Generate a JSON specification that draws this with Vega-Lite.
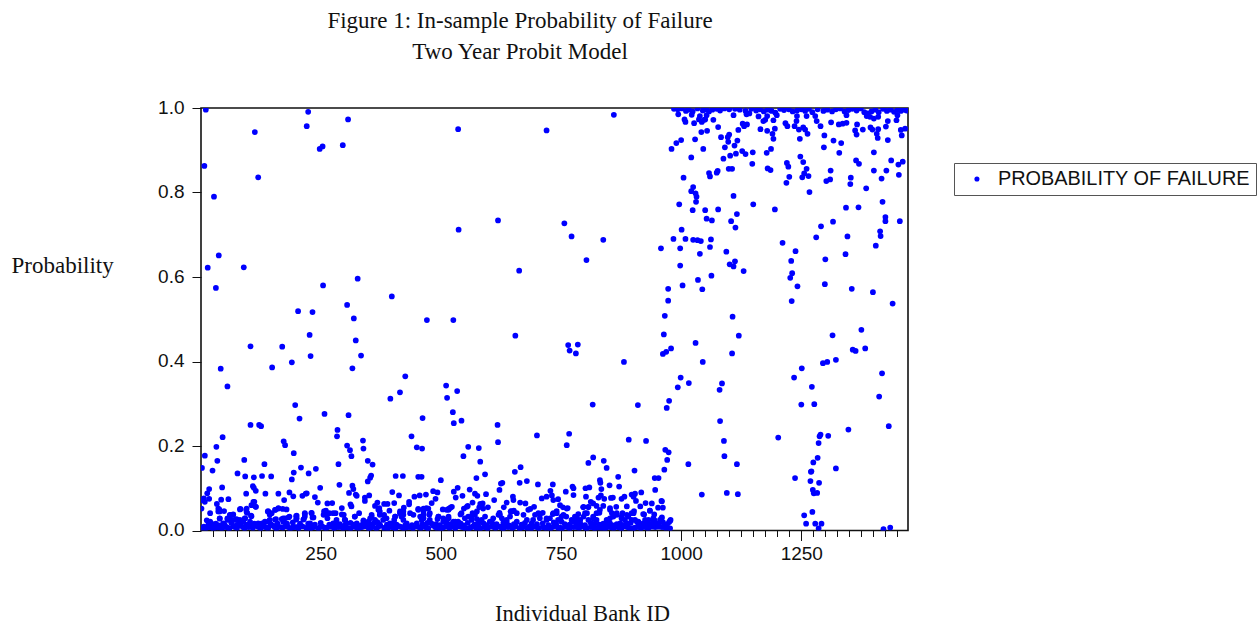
{"$schema":"https://vega.github.io/schema/vega-lite/v6.json","width":707,"height":422.5,"autosize":{"type":"none"},"padding":{"left":201,"top":108,"right":350,"bottom":93.5},"background":"white","config":{"view":{"stroke":"#111","strokeWidth":1.6}},
"title":{"text":["Figure 1: In-sample Probability of Failure","Two Year Probit Model"],"font":"Liberation Serif","fontSize":23,"fontWeight":"normal","color":"#111","anchor":"middle","frame":"group","dx":-34.5,"lineHeight":31,"offset":34},
"data":{"values":[
{"id":11,"p":0.996},{"id":224,"p":0.991},{"id":307,"p":0.973},{"id":113,"p":0.943},{"id":221,"p":0.957},{"id":536,"p":0.95},{"id":720,"p":0.947},{"id":248,"p":0.903},{"id":254,"p":0.909},{"id":296,"p":0.912},{"id":8,"p":0.863},{"id":120,"p":0.836},{"id":28,"p":0.79},{"id":619,"p":0.734},{"id":537,"p":0.712},{"id":38,"p":0.651},{"id":15,"p":0.622},{"id":90,"p":0.623},{"id":663,"p":0.615},{"id":327,"p":0.596},{"id":32,"p":0.574},{"id":255,"p":0.58},{"id":398,"p":0.554},{"id":305,"p":0.534},{"id":203,"p":0.519},{"id":233,"p":0.517},{"id":319,"p":0.502},{"id":471,"p":0.498},{"id":526,"p":0.498},{"id":860,"p":0.984},{"id":757,"p":0.727},{"id":772,"p":0.696},{"id":838,"p":0.688},{"id":803,"p":0.64},
{"id":104,"p":0.436},{"id":170,"p":0.435},{"id":227,"p":0.463},{"id":229,"p":0.413},{"id":323,"p":0.45},{"id":334,"p":0.414},{"id":316,"p":0.384},{"id":42,"p":0.383},{"id":56,"p":0.341},{"id":149,"p":0.386},{"id":190,"p":0.398},{"id":426,"p":0.365},{"id":511,"p":0.343},{"id":513,"p":0.314},{"id":415,"p":0.327},{"id":395,"p":0.312},{"id":197,"p":0.297},{"id":206,"p":0.265},{"id":258,"p":0.276},{"id":308,"p":0.273},{"id":104,"p":0.25},{"id":122,"p":0.25},{"id":126,"p":0.247},{"id":462,"p":0.266},{"id":285,"p":0.238},{"id":284,"p":0.223},{"id":439,"p":0.223},{"id":46,"p":0.221},{"id":33,"p":0.198},{"id":173,"p":0.211},{"id":176,"p":0.202},{"id":305,"p":0.201},{"id":311,"p":0.19},{"id":314,"p":0.176},{"id":338,"p":0.213},{"id":339,"p":0.194},{"id":450,"p":0.197},{"id":461,"p":0.194},{"id":9,"p":0.177},{"id":35,"p":0.165},{"id":91,"p":0.167},{"id":194,"p":0.183},{"id":348,"p":0.165},{"id":358,"p":0.156},{"id":133,"p":0.157},{"id":209,"p":0.149},{"id":240,"p":0.146},{"id":287,"p":0.157},{"id":3,"p":0.148},{"id":25,"p":0.142},{"id":77,"p":0.135},{"id":93,"p":0.128},{"id":111,"p":0.126},{"id":128,"p":0.129},{"id":147,"p":0.128},{"id":194,"p":0.137},{"id":225,"p":0.135},{"id":190,"p":0.121},{"id":355,"p":0.13},{"id":353,"p":0.125},{"id":348,"p":0.116},{"id":406,"p":0.129},{"id":421,"p":0.129},{"id":453,"p":0.127},{"id":460,"p":0.127},{"id":500,"p":0.119},{"id":18,"p":0.098},{"id":45,"p":0.102},{"id":109,"p":0.105},{"id":111,"p":0.101},{"id":115,"p":0.094},{"id":289,"p":0.108},{"id":316,"p":0.106},{"id":318,"p":0.098},{"id":249,"p":0.101},{"id":399,"p":0.091},{"id":413,"p":0.083},{"id":484,"p":0.093},{"id":493,"p":0.09},{"id":309,"p":0.089},{"id":323,"p":0.085},{"id":325,"p":0.082},{"id":185,"p":0.09},{"id":193,"p":0.081},{"id":212,"p":0.082},{"id":221,"p":0.088},{"id":219,"p":0.087},{"id":95,"p":0.087},{"id":135,"p":0.087},{"id":162,"p":0.087},{"id":238,"p":0.079},{"id":174,"p":0.072},{"id":351,"p":0.083},{"id":342,"p":0.078},{"id":342,"p":0.07},{"id":445,"p":0.08},{"id":456,"p":0.083},{"id":469,"p":0.085},{"id":489,"p":0.075},{"id":2,"p":0.072},{"id":9,"p":0.068},{"id":7,"p":0.076},{"id":14,"p":0.088},{"id":18,"p":0.075},{"id":43,"p":0.073},{"id":58,"p":0.074},{"id":34,"p":0.063},{"id":244,"p":0.066},{"id":264,"p":0.064},{"id":274,"p":0.065},{"id":368,"p":0.066},{"id":363,"p":0.058},{"id":382,"p":0.063},{"id":389,"p":0.063},{"id":403,"p":0.065},{"id":434,"p":0.068},{"id":434,"p":0.062},{"id":481,"p":0.065},{"id":2,"p":0.052},{"id":37,"p":0.045},{"id":39,"p":0.05},{"id":49,"p":0.046},{"id":83,"p":0.051},{"id":96,"p":0.052},{"id":96,"p":0.043},{"id":112,"p":0.068},{"id":106,"p":0.06},{"id":115,"p":0.056},{"id":140,"p":0.045},{"id":156,"p":0.049},{"id":162,"p":0.053},{"id":171,"p":0.051},{"id":179,"p":0.05},{"id":294,"p":0.053},{"id":312,"p":0.062},{"id":314,"p":0.057},{"id":372,"p":0.053},{"id":373,"p":0.045},{"id":393,"p":0.047},{"id":415,"p":0.045},{"id":423,"p":0.054},{"id":453,"p":0.051},{"id":470,"p":0.053},{"id":464,"p":0.045},{"id":504,"p":0.05},{"id":512,"p":0.049},{"id":519,"p":0.053},
{"id":964,"p":0.464},{"id":979,"p":0.431},{"id":969,"p":0.423},{"id":962,"p":0.418},{"id":655,"p":0.461},{"id":765,"p":0.439},{"id":785,"p":0.44},{"id":768,"p":0.426},{"id":781,"p":0.419},{"id":1030,"p":0.444},{"id":881,"p":0.399},{"id":999,"p":0.362},{"id":993,"p":0.339},{"id":1016,"p":0.349},{"id":534,"p":0.33},{"id":525,"p":0.28},{"id":527,"p":0.254},{"id":543,"p":0.26},{"id":816,"p":0.298},{"id":910,"p":0.297},{"id":975,"p":0.307},{"id":970,"p":0.29},{"id":618,"p":0.25},{"id":619,"p":0.209},{"id":700,"p":0.225},{"id":767,"p":0.229},{"id":762,"p":0.202},{"id":891,"p":0.215},{"id":927,"p":0.212},{"id":557,"p":0.198},{"id":579,"p":0.195},{"id":547,"p":0.176},{"id":967,"p":0.191},{"id":974,"p":0.185},{"id":582,"p":0.163},{"id":817,"p":0.173},{"id":807,"p":0.16},{"id":839,"p":0.165},{"id":971,"p":0.167},{"id":845,"p":0.148},{"id":1015,"p":0.157},{"id":666,"p":0.15},{"id":654,"p":0.139},{"id":592,"p":0.133},{"id":574,"p":0.124},{"id":965,"p":0.144},{"id":903,"p":0.142},{"id":869,"p":0.127},{"id":945,"p":0.124},{"id":953,"p":0.124},{"id":679,"p":0.117},{"id":664,"p":0.113},{"id":628,"p":0.113},{"id":625,"p":0.111},{"id":702,"p":0.109},{"id":733,"p":0.109},{"id":831,"p":0.119},{"id":832,"p":0.113},{"id":851,"p":0.107},{"id":871,"p":0.104},{"id":809,"p":0.102},{"id":801,"p":0.1},{"id":774,"p":0.104},{"id":776,"p":0.1},{"id":535,"p":0.101},{"id":527,"p":0.092},{"id":560,"p":0.097},{"id":622,"p":0.096},{"id":728,"p":0.094},{"id":760,"p":0.092},{"id":834,"p":0.098},{"id":946,"p":0.096},{"id":917,"p":0.09},{"id":904,"p":0.087},{"id":897,"p":0.085},{"id":776,"p":0.084},{"id":802,"p":0.08},{"id":545,"p":0.082},{"id":531,"p":0.078},{"id":571,"p":0.087},{"id":576,"p":0.082},{"id":594,"p":0.086},{"id":650,"p":0.08},{"id":651,"p":0.072},{"id":611,"p":0.072},{"id":720,"p":0.08},{"id":710,"p":0.076},{"id":731,"p":0.083},{"id":734,"p":0.072},{"id":744,"p":0.074},{"id":833,"p":0.083},{"id":828,"p":0.078},{"id":840,"p":0.075},{"id":854,"p":0.077},{"id":858,"p":0.078},{"id":876,"p":0.075},{"id":882,"p":0.08},{"id":901,"p":0.08},{"id":906,"p":0.07},{"id":959,"p":0.07},{"id":812,"p":0.068},{"id":817,"p":0.064},{"id":566,"p":0.066},{"id":587,"p":0.064},{"id":582,"p":0.063},{"id":637,"p":0.066},{"id":631,"p":0.055},{"id":665,"p":0.066},{"id":676,"p":0.064},{"id":694,"p":0.056},{"id":686,"p":0.051},{"id":748,"p":0.06},{"id":754,"p":0.055},{"id":764,"p":0.053},{"id":796,"p":0.055},{"id":807,"p":0.055},{"id":824,"p":0.058},{"id":838,"p":0.058},{"id":852,"p":0.053},{"id":865,"p":0.056},{"id":887,"p":0.057},{"id":915,"p":0.057},{"id":926,"p":0.065},{"id":939,"p":0.064},{"id":952,"p":0.054},{"id":962,"p":0.054},{"id":556,"p":0.058},{"id":548,"p":0.052},{"id":521,"p":0.055},{"id":516,"p":0.051},{"id":580,"p":0.055},{"id":598,"p":0.055},{"id":652,"p":0.047},{"id":645,"p":0.045},{"id":622,"p":0.042},{"id":541,"p":0.038},{"id":566,"p":0.041},{"id":712,"p":0.042},{"id":741,"p":0.046},{"id":733,"p":0.039},{"id":830,"p":0.042},{"id":856,"p":0.041},{"id":902,"p":0.046},{"id":923,"p":0.038},{"id":935,"p":0.047},{"id":944,"p":0.038},
{"id":980,"p":0.903},{"id":990,"p":0.917},{"id":1000,"p":0.924},{"id":1029,"p":0.926},{"id":1046,"p":0.903},{"id":1021,"p":0.883},{"id":1005,"p":0.835},{"id":1025,"p":0.813},{"id":1021,"p":0.803},{"id":1030,"p":0.798},{"id":1032,"p":0.79},{"id":1031,"p":0.778},{"id":996,"p":0.772},{"id":1024,"p":0.758},{"id":1050,"p":0.758},{"id":1077,"p":0.76},{"id":1053,"p":0.738},{"id":1064,"p":0.734},{"id":1001,"p":0.712},{"id":984,"p":0.69},{"id":1009,"p":0.69},{"id":1025,"p":0.688},{"id":1034,"p":0.687},{"id":1041,"p":0.685},{"id":1062,"p":0.689},{"id":1060,"p":0.671},{"id":958,"p":0.668},{"id":998,"p":0.668},{"id":1039,"p":0.655},{"id":998,"p":0.627},{"id":1035,"p":0.593},{"id":1063,"p":0.603},{"id":1003,"p":0.58},{"id":973,"p":0.572},{"id":1044,"p":0.571},{"id":973,"p":0.544},{"id":966,"p":0.508},{"id":1107,"p":0.506},{"id":1094,"p":0.66},{"id":1101,"p":0.63},{"id":1112,"p":0.637},{"id":1109,"p":0.625},{"id":1130,"p":0.614},{"id":1109,"p":0.792},{"id":1116,"p":0.749},{"id":1104,"p":0.732},{"id":1113,"p":0.717},{"id":1150,"p":0.772},{"id":1195,"p":0.76},{"id":1211,"p":0.681},{"id":1238,"p":0.661},{"id":1229,"p":0.638},{"id":1231,"p":0.609},{"id":1227,"p":0.598},{"id":1242,"p":0.578},{"id":1230,"p":0.543},{"id":1299,"p":0.583},{"id":1300,"p":0.642},{"id":1281,"p":0.694},{"id":1291,"p":0.72},{"id":1316,"p":0.731},{"id":1346,"p":0.696},{"id":1342,"p":0.654},{"id":1355,"p":0.572},{"id":1399,"p":0.564},{"id":1440,"p":0.537},{"id":1405,"p":0.674},{"id":1415,"p":0.697},{"id":1414,"p":0.708},{"id":1425,"p":0.742},{"id":1425,"p":0.732},{"id":1455,"p":0.732},{"id":1419,"p":0.778},{"id":1343,"p":0.764},{"id":1369,"p":0.765},{"id":1385,"p":0.81},{"id":1352,"p":0.82},{"id":1353,"p":0.835},{"id":1417,"p":0.833},{"id":1267,"p":0.801},{"id":1219,"p":0.823},{"id":1225,"p":0.837},{"id":1252,"p":0.836},{"id":1256,"p":0.845},{"id":1265,"p":0.839},{"id":1261,"p":0.856},{"id":1302,"p":0.827},{"id":1310,"p":0.831},{"id":1311,"p":0.852},{"id":1223,"p":0.861},{"id":1220,"p":0.87},{"id":1254,"p":0.872},{"id":1248,"p":0.885},{"id":1186,"p":0.853},{"id":1180,"p":0.857},{"id":1148,"p":0.868},{"id":1060,"p":0.838},{"id":1058,"p":0.846},{"id":1076,"p":0.851},{"id":1074,"p":0.847},{"id":1099,"p":0.856},{"id":1106,"p":0.856},{"id":1088,"p":0.88},{"id":1102,"p":0.887},{"id":1114,"p":0.892},{"id":1127,"p":0.898},{"id":1134,"p":0.891},{"id":1149,"p":0.895},{"id":1178,"p":0.894},{"id":1187,"p":0.903},{"id":1091,"p":0.907},{"id":1111,"p":0.911},{"id":1098,"p":0.92},{"id":1117,"p":0.923},{"id":1083,"p":0.931},{"id":1097,"p":0.931},{"id":1100,"p":0.937},{"id":1042,"p":0.943},{"id":1054,"p":0.946},{"id":1077,"p":0.955},{"id":1119,"p":0.948},{"id":1027,"p":0.964},{"id":1009,"p":0.967},{"id":1007,"p":0.973},{"id":1067,"p":0.972},{"id":1048,"p":0.972},{"id":1039,"p":0.981},{"id":1043,"p":0.967},{"id":1037,"p":0.973},{"id":1050,"p":0.973},{"id":1109,"p":0.983},{"id":1128,"p":0.963},{"id":1131,"p":0.957},{"id":1137,"p":0.961},{"id":1165,"p":0.95},{"id":1179,"p":0.946},{"id":1195,"p":0.951},{"id":1190,"p":0.939},{"id":1192,"p":0.927},{"id":1221,"p":0.957},{"id":1217,"p":0.964},{"id":1240,"p":0.969},{"id":1236,"p":0.957},{"id":1245,"p":0.949},{"id":1254,"p":0.954},{"id":1258,"p":0.949},{"id":1263,"p":0.939},{"id":1247,"p":0.927},{"id":1298,"p":0.935},{"id":1297,"p":0.907},{"id":1290,"p":0.957},{"id":1282,"p":0.969},{"id":1312,"p":0.966},{"id":1317,"p":0.923},{"id":1333,"p":0.917},{"id":1329,"p":0.894},{"id":1328,"p":0.961},{"id":1336,"p":0.963},{"id":1344,"p":0.965},{"id":1362,"p":0.947},{"id":1366,"p":0.961},{"id":1365,"p":0.937},{"id":1378,"p":0.949},{"id":1394,"p":0.954},{"id":1398,"p":0.949},{"id":1410,"p":0.95},{"id":1407,"p":0.939},{"id":1409,"p":0.929},{"id":1401,"p":0.895},{"id":1364,"p":0.876},{"id":1370,"p":0.868},{"id":1401,"p":0.852},{"id":1427,"p":0.852},{"id":1437,"p":0.876},{"id":1452,"p":0.866},{"id":1461,"p":0.873},{"id":1453,"p":0.842},{"id":1430,"p":0.924},{"id":1426,"p":0.956},{"id":1430,"p":0.969},{"id":1448,"p":0.971},{"id":1457,"p":0.948},{"id":1466,"p":0.951},{"id":1459,"p":0.935},{"id":1161,"p":0.98},{"id":1175,"p":0.972},{"id":1171,"p":0.969},{"id":1179,"p":0.981},{"id":1192,"p":0.971},{"id":1199,"p":0.983},{"id":1241,"p":0.981},{"id":1261,"p":0.981},{"id":1279,"p":0.981},{"id":1344,"p":0.983},{"id":1386,"p":0.981},{"id":1393,"p":0.979},{"id":1401,"p":0.975},{"id":1410,"p":0.979},{"id":1450,"p":0.983},{"id":1136,"p":0.985},{"id":1142,"p":0.987},{"id":994,"p":0.985},{"id":1022,"p":0.984},{"id":1053,"p":0.983},
{"id":985,"p":0.998},{"id":993,"p":0.997},{"id":1001,"p":0.999},{"id":1010,"p":0.993},{"id":1016,"p":0.996},{"id":1024,"p":0.992},{"id":1034,"p":0.999},{"id":1045,"p":0.994},{"id":1052,"p":0.997},{"id":1058,"p":0.992},{"id":1065,"p":0.996},{"id":1074,"p":0.998},{"id":1081,"p":0.994},{"id":1090,"p":0.999},{"id":1100,"p":0.997},{"id":1112,"p":0.998},{"id":1122,"p":0.996},{"id":1134,"p":0.993},{"id":1146,"p":0.998},{"id":1156,"p":0.994},{"id":1164,"p":0.997},{"id":1172,"p":0.992},{"id":1180,"p":0.996},{"id":1188,"p":0.993},{"id":1196,"p":0.989},{"id":1206,"p":0.998},{"id":1214,"p":0.995},{"id":1224,"p":0.997},{"id":1232,"p":0.992},{"id":1241,"p":0.994},{"id":1250,"p":0.997},{"id":1258,"p":0.993},{"id":1266,"p":0.998},{"id":1273,"p":0.99},{"id":1284,"p":0.997},{"id":1296,"p":0.993},{"id":1304,"p":0.996},{"id":1314,"p":0.992},{"id":1322,"p":0.997},{"id":1331,"p":0.999},{"id":1340,"p":0.992},{"id":1348,"p":0.995},{"id":1356,"p":0.998},{"id":1365,"p":0.994},{"id":1374,"p":0.999},{"id":1381,"p":0.99},{"id":1388,"p":0.987},{"id":1396,"p":0.992},{"id":1404,"p":0.996},{"id":1411,"p":0.99},{"id":1420,"p":0.998},{"id":1428,"p":0.993},{"id":1436,"p":0.996},{"id":1443,"p":0.991},{"id":1450,"p":0.995},{"id":1457,"p":0.993},{"id":1464,"p":0.996},{"id":1469,"p":0.994},
{"id":1120,"p":0.461},{"id":1106,"p":0.419},{"id":1045,"p":0.399},{"id":1085,"p":0.348},{"id":1080,"p":0.333},{"id":1081,"p":0.259},{"id":1089,"p":0.212},{"id":1090,"p":0.176},{"id":1116,"p":0.157},{"id":1043,"p":0.085},{"id":1095,"p":0.089},{"id":1118,"p":0.086},{"id":1235,"p":0.362},{"id":1251,"p":0.384},{"id":1295,"p":0.396},{"id":1304,"p":0.399},{"id":1322,"p":0.404},{"id":1315,"p":0.462},{"id":1375,"p":0.475},{"id":1357,"p":0.428},{"id":1363,"p":0.425},{"id":1383,"p":0.431},{"id":1418,"p":0.372},{"id":1412,"p":0.317},{"id":1272,"p":0.34},{"id":1250,"p":0.298},{"id":1277,"p":0.299},{"id":1432,"p":0.247},{"id":1348,"p":0.239},{"id":1306,"p":0.224},{"id":1290,"p":0.227},{"id":1288,"p":0.223},{"id":1286,"p":0.207},{"id":1202,"p":0.22},{"id":1284,"p":0.172},{"id":1275,"p":0.161},{"id":1271,"p":0.14},{"id":1270,"p":0.139},{"id":1322,"p":0.147},{"id":1237,"p":0.124},{"id":1269,"p":0.117},{"id":1287,"p":0.113},{"id":1274,"p":0.096},{"id":1276,"p":0.088},{"id":1283,"p":0.089},{"id":1273,"p":0.044},{"id":1256,"p":0.036},{"id":1260,"p":0.016},{"id":1279,"p":0.016},{"id":1292,"p":0.016},{"id":1286,"p":0.005},{"id":1421,"p":0.003},{"id":1435,"p":0.007},{"id":960,"p":0.069},{"id":960,"p":0.031},{"id":956,"p":0.025},{"id":944,"p":0.025},{"id":978,"p":0.025},{"id":975,"p":0.02},{"id":966,"p":0.014},
{"id":13,"p":0.024},{"id":20,"p":0.021},{"id":23,"p":0.016},{"id":16,"p":0.013},{"id":40,"p":0.028},{"id":58,"p":0.029},{"id":63,"p":0.037},{"id":68,"p":0.038},{"id":56,"p":0.025},{"id":65,"p":0.025},{"id":75,"p":0.027},{"id":82,"p":0.025},{"id":92,"p":0.029},{"id":89,"p":0.021},{"id":103,"p":0.021},{"id":105,"p":0.035},{"id":120,"p":0.017},{"id":134,"p":0.021},{"id":144,"p":0.025},{"id":144,"p":0.037},{"id":157,"p":0.027},{"id":169,"p":0.027},{"id":176,"p":0.029},{"id":185,"p":0.033},{"id":200,"p":0.035},{"id":200,"p":0.029},{"id":217,"p":0.041},{"id":217,"p":0.033},{"id":215,"p":0.027},{"id":231,"p":0.041},{"id":233,"p":0.031},{"id":207,"p":0.016},{"id":224,"p":0.016},{"id":257,"p":0.045},{"id":261,"p":0.047},{"id":256,"p":0.037},{"id":268,"p":0.041},{"id":264,"p":0.029},{"id":281,"p":0.041},{"id":283,"p":0.025},{"id":280,"p":0.017},{"id":294,"p":0.038},{"id":298,"p":0.037},{"id":300,"p":0.025},{"id":304,"p":0.017},{"id":321,"p":0.033},{"id":330,"p":0.041},{"id":325,"p":0.017},{"id":339,"p":0.024},{"id":335,"p":0.013},{"id":356,"p":0.037},{"id":353,"p":0.029},{"id":363,"p":0.025},{"id":349,"p":0.021},{"id":382,"p":0.037},{"id":387,"p":0.029},{"id":380,"p":0.025},{"id":394,"p":0.017},{"id":405,"p":0.033},{"id":403,"p":0.025},{"id":418,"p":0.033},{"id":422,"p":0.037},{"id":429,"p":0.017},{"id":443,"p":0.037},{"id":457,"p":0.033},{"id":460,"p":0.025},{"id":464,"p":0.037},{"id":476,"p":0.037},{"id":477,"p":0.025},{"id":481,"p":0.016},{"id":495,"p":0.033},{"id":493,"p":0.027},{"id":505,"p":0.021},{"id":516,"p":0.033},
{"id":516,"p":0.029},{"id":526,"p":0.021},{"id":536,"p":0.021},{"id":541,"p":0.017},{"id":550,"p":0.029},{"id":557,"p":0.033},{"id":571,"p":0.037},{"id":564,"p":0.025},{"id":575,"p":0.027},{"id":585,"p":0.025},{"id":589,"p":0.017},{"id":602,"p":0.021},{"id":609,"p":0.029},{"id":620,"p":0.037},{"id":627,"p":0.029},{"id":637,"p":0.025},{"id":644,"p":0.033},{"id":647,"p":0.045},{"id":658,"p":0.021},{"id":672,"p":0.037},{"id":679,"p":0.025},{"id":689,"p":0.017},{"id":696,"p":0.037},{"id":703,"p":0.041},{"id":706,"p":0.029},{"id":720,"p":0.025},{"id":727,"p":0.029},{"id":741,"p":0.041},{"id":751,"p":0.033},{"id":761,"p":0.033},{"id":772,"p":0.025},{"id":779,"p":0.033},{"id":786,"p":0.039},{"id":790,"p":0.025},{"id":797,"p":0.033},{"id":804,"p":0.041},{"id":807,"p":0.025},{"id":817,"p":0.033},{"id":824,"p":0.025},{"id":821,"p":0.017},{"id":845,"p":0.025},{"id":852,"p":0.017},{"id":859,"p":0.033},{"id":866,"p":0.037},{"id":876,"p":0.033},{"id":883,"p":0.025},{"id":878,"p":0.041},{"id":890,"p":0.033},{"id":897,"p":0.041},{"id":904,"p":0.025},{"id":911,"p":0.021},{"id":921,"p":0.017},{"id":932,"p":0.025},{"id":942,"p":0.029},{"id":953,"p":0.017},{"id":977,"p":0.005},
{"id":262,"p":0.037},{"id":259,"p":0.045},{"id":276,"p":0.041},{"id":297,"p":0.037},{"id":301,"p":0.025},{"id":280,"p":0.017},{"id":321,"p":0.033},{"id":339,"p":0.021},{"id":356,"p":0.033},{"id":360,"p":0.017},{"id":370,"p":0.049},{"id":373,"p":0.037},{"id":384,"p":0.029},{"id":405,"p":0.033},{"id":415,"p":0.041},{"id":422,"p":0.045},{"id":422,"p":0.025},{"id":436,"p":0.041},{"id":453,"p":0.049},{"id":464,"p":0.052},{"id":474,"p":0.052},{"id":477,"p":0.041},{"id":464,"p":0.029},{"id":495,"p":0.033},{"id":505,"p":0.029},{"id":516,"p":0.049},{"id":523,"p":0.056},{"id":509,"p":0.021},{"id":530,"p":0.021},{"id":543,"p":0.041},{"id":554,"p":0.056},{"id":564,"p":0.033},{"id":575,"p":0.045},{"id":588,"p":0.052},{"id":592,"p":0.033},{"id":606,"p":0.021},{"id":623,"p":0.037},{"id":637,"p":0.021},{"id":647,"p":0.045},{"id":658,"p":0.041},{"id":682,"p":0.049},{"id":692,"p":0.025},{"id":706,"p":0.037},{"id":720,"p":0.029},{"id":734,"p":0.041},{"id":744,"p":0.025},
{"id":755,"p":0.037},{"id":762,"p":0.052},{"id":751,"p":0.021},{"id":776,"p":0.021},{"id":783,"p":0.029},{"id":790,"p":0.017},{"id":797,"p":0.056},{"id":807,"p":0.056},{"id":800,"p":0.041},{"id":817,"p":0.029},{"id":824,"p":0.041},{"id":831,"p":0.049},{"id":852,"p":0.049},{"id":852,"p":0.029},{"id":845,"p":0.017},{"id":866,"p":0.041},{"id":876,"p":0.029},{"id":873,"p":0.017},{"id":887,"p":0.037},{"id":901,"p":0.041},{"id":897,"p":0.025},{"id":887,"p":0.017},{"id":908,"p":0.021},{"id":921,"p":0.039},{"id":925,"p":0.025},{"id":935,"p":0.047},{"id":942,"p":0.023},{"id":959,"p":0.029},{"id":953,"p":0.013},{"id":977,"p":0.023},{"id":971,"p":0.015},
{"id":20,"p":0.041},{"id":40,"p":0.045},{"id":37,"p":0.052},{"id":40,"p":0.029},{"id":61,"p":0.037},{"id":68,"p":0.037},{"id":56,"p":0.029},{"id":72,"p":0.025},{"id":82,"p":0.05},{"id":95,"p":0.049},{"id":97,"p":0.042},{"id":93,"p":0.029},{"id":106,"p":0.034},{"id":110,"p":0.068},{"id":115,"p":0.056},{"id":141,"p":0.045},{"id":148,"p":0.041},{"id":155,"p":0.049},{"id":162,"p":0.052},{"id":155,"p":0.026},{"id":172,"p":0.029},{"id":183,"p":0.031},{"id":199,"p":0.034},{"id":199,"p":0.026},{"id":217,"p":0.039},{"id":214,"p":0.026},{"id":231,"p":0.042},{"id":235,"p":0.031},{"id":26,"p":0.013},{"id":47,"p":0.017},{"id":75,"p":0.013},{"id":103,"p":0.013},{"id":141,"p":0.021},{"id":172,"p":0.021},{"id":207,"p":0.013},{"id":228,"p":0.017},{"id":276,"p":0.017},{"id":300,"p":0.012},{"id":318,"p":0.014},{"id":352,"p":0.013},{"id":372,"p":0.015},{"id":408,"p":0.014},{"id":440,"p":0.013},{"id":462,"p":0.015},{"id":498,"p":0.013},{"id":520,"p":0.015},{"id":548,"p":0.012},{"id":570,"p":0.014},{"id":596,"p":0.013},{"id":616,"p":0.015},{"id":642,"p":0.012},{"id":668,"p":0.014},{"id":700,"p":0.015},{"id":724,"p":0.013},{"id":740,"p":0.015},{"id":768,"p":0.014},{"id":800,"p":0.013},{"id":830,"p":0.014},{"id":858,"p":0.012},{"id":880,"p":0.013},{"id":912,"p":0.014},{"id":936,"p":0.015},
{"id":32,"p":0.016},{"id":38,"p":0.012},{"id":50,"p":0.014},{"id":64,"p":0.018},{"id":80,"p":0.017},{"id":96,"p":0.014},{"id":112,"p":0.016},{"id":128,"p":0.017},{"id":146,"p":0.015},{"id":160,"p":0.017},{"id":180,"p":0.016},{"id":192,"p":0.019},{"id":238,"p":0.014},{"id":250,"p":0.018},{"id":268,"p":0.014},{"id":290,"p":0.015},{"id":312,"p":0.018},{"id":345,"p":0.017},{"id":368,"p":0.02},{"id":388,"p":0.014},{"id":402,"p":0.018},{"id":426,"p":0.013},{"id":450,"p":0.017},{"id":472,"p":0.018},{"id":490,"p":0.015},{"id":512,"p":0.018},{"id":532,"p":0.016},{"id":556,"p":0.018},{"id":578,"p":0.017},{"id":610,"p":0.014},{"id":630,"p":0.018},{"id":652,"p":0.015},{"id":675,"p":0.018},{"id":712,"p":0.017},{"id":735,"p":0.019},{"id":758,"p":0.015},{"id":782,"p":0.017},{"id":812,"p":0.018},{"id":838,"p":0.016},{"id":866,"p":0.015},{"id":895,"p":0.018},{"id":928,"p":0.014},{"id":945,"p":0.018},{"id":962,"p":0.02},
{"id":7,"p":0.009},{"id":15,"p":0.008},{"id":23,"p":0.007},{"id":31,"p":0.009},{"id":48,"p":0.008},{"id":56,"p":0.007},{"id":72,"p":0.008},{"id":88,"p":0.008},{"id":104,"p":0.009},{"id":121,"p":0.008},{"id":137,"p":0.007},{"id":154,"p":0.008},{"id":171,"p":0.007},{"id":181,"p":0.009},{"id":191,"p":0.007},{"id":200,"p":0.008},{"id":224,"p":0.009},{"id":232,"p":0.007},{"id":249,"p":0.008},{"id":258,"p":0.007},{"id":283,"p":0.008},{"id":304,"p":0.007},{"id":325,"p":0.007},{"id":336,"p":0.008},{"id":354,"p":0.007},{"id":370,"p":0.009},{"id":386,"p":0.008},{"id":402,"p":0.007},{"id":418,"p":0.008},{"id":428,"p":0.007},{"id":438,"p":0.009},{"id":454,"p":0.008},{"id":470,"p":0.007},{"id":488,"p":0.008},{"id":505,"p":0.007},{"id":524,"p":0.009},{"id":544,"p":0.008},{"id":562,"p":0.007},{"id":578,"p":0.009},{"id":594,"p":0.007},{"id":610,"p":0.008},{"id":626,"p":0.007},{"id":635,"p":0.009},{"id":652,"p":0.008},{"id":668,"p":0.007},{"id":684,"p":0.009},{"id":700,"p":0.008},{"id":716,"p":0.007},{"id":732,"p":0.008},{"id":748,"p":0.007},{"id":764,"p":0.008},{"id":782,"p":0.008},{"id":800,"p":0.007},{"id":816,"p":0.008},{"id":827,"p":0.007},{"id":846,"p":0.008},{"id":855,"p":0.007},{"id":872,"p":0.007},{"id":888,"p":0.008},{"id":904,"p":0.007},{"id":920,"p":0.008},{"id":928,"p":0.007},{"id":964,"p":0.009},
{"id":3,"p":0.006},{"id":11,"p":0.005},{"id":19,"p":0.008},{"id":27,"p":0.004},{"id":35,"p":0.007},{"id":44,"p":0.005},{"id":52,"p":0.009},{"id":60,"p":0.005},{"id":68,"p":0.01},{"id":76,"p":0.006},{"id":84,"p":0.012},{"id":92,"p":0.005},{"id":100,"p":0.008},{"id":109,"p":0.006},{"id":117,"p":0.01},{"id":125,"p":0.005},{"id":133,"p":0.009},{"id":141,"p":0.006},{"id":150,"p":0.012},{"id":158,"p":0.005},{"id":166,"p":0.008},{"id":176,"p":0.01},{"id":186,"p":0.005},{"id":196,"p":0.008},{"id":204,"p":0.005},{"id":212,"p":0.01},{"id":220,"p":0.006},{"id":228,"p":0.005},{"id":236,"p":0.008},{"id":245,"p":0.005},{"id":253,"p":0.01},{"id":262,"p":0.006},{"id":270,"p":0.009},{"id":278,"p":0.005},{"id":288,"p":0.008},{"id":296,"p":0.006},{"id":312,"p":0.005},{"id":320,"p":0.009},{"id":330,"p":0.006},{"id":342,"p":0.01},{"id":350,"p":0.005},{"id":358,"p":0.008},{"id":366,"p":0.005},{"id":374,"p":0.012},{"id":382,"p":0.006},{"id":390,"p":0.005},{"id":398,"p":0.008},{"id":406,"p":0.005},{"id":414,"p":0.01},{"id":422,"p":0.006},{"id":434,"p":0.008},{"id":442,"p":0.005},{"id":450,"p":0.01},{"id":458,"p":0.006},{"id":466,"p":0.009},{"id":474,"p":0.005},{"id":484,"p":0.012},{"id":492,"p":0.006},{"id":500,"p":0.005},{"id":510,"p":0.009},{"id":518,"p":0.006},{"id":530,"p":0.005},{"id":538,"p":0.01},{"id":550,"p":0.006},{"id":558,"p":0.005},{"id":566,"p":0.009},{"id":574,"p":0.006},{"id":582,"p":0.005},{"id":590,"p":0.008},{"id":598,"p":0.005},{"id":606,"p":0.01},{"id":614,"p":0.006},{"id":622,"p":0.009},{"id":630,"p":0.005},{"id":640,"p":0.008},{"id":648,"p":0.006},{"id":656,"p":0.01},{"id":664,"p":0.005},{"id":672,"p":0.008},{"id":680,"p":0.006},{"id":688,"p":0.005},{"id":696,"p":0.009},{"id":704,"p":0.005},{"id":712,"p":0.008},{"id":720,"p":0.006},{"id":728,"p":0.005},{"id":736,"p":0.01},{"id":744,"p":0.006},{"id":752,"p":0.005},{"id":760,"p":0.009},{"id":768,"p":0.005},{"id":776,"p":0.008},{"id":788,"p":0.006},{"id":796,"p":0.01},{"id":804,"p":0.005},{"id":812,"p":0.008},{"id":820,"p":0.005},{"id":834,"p":0.006},{"id":842,"p":0.005},{"id":850,"p":0.009},{"id":860,"p":0.006},{"id":868,"p":0.008},{"id":876,"p":0.005},{"id":884,"p":0.01},{"id":892,"p":0.006},{"id":900,"p":0.005},{"id":908,"p":0.008},{"id":916,"p":0.005},{"id":924,"p":0.01},{"id":932,"p":0.006},{"id":939,"p":0.009},{"id":946,"p":0.008},{"id":953,"p":0.009},{"id":960,"p":0.008},{"id":968,"p":0.006}
]},
"mark":{"type":"point","filled":true,"opacity":1,"size":33,"shape":"circle","clip":true},
"encoding":{
"x":{"field":"id","type":"quantitative","scale":{"domain":[1,1472],"nice":false,"zero":false},
"axis":{"title":"Individual Bank ID","titleFont":"Liberation Serif","titleFontSize":22.5,"titleFontWeight":"normal","titleColor":"#111","titleX":381,"titleY":90,"titleAlign":"center","titleBaseline":"alphabetic","grid":false,"domain":false,"values":[25,50,75,100,125,150,175,200,225,250,275,300,325,350,375,400,425,450,475,500,525,550,575,600,625,650,675,700,725,750,775,800,825,850,875,900,925,950,975,1000,1025,1050,1075,1100,1125,1150,1175,1200,1225,1250,1275,1300,1325,1350,1375,1400,1425,1450],"labelExpr":"datum.value%250===0?format(datum.value,'d'):''","labelFont":"Liberation Sans","labelFontSize":19,"labelColor":"#111","labelOverlap":false,"labelPadding":3.5,"tickColor":"#111","tickSize":{"condition":{"test":"datum.value%250===0","value":10},"value":6}}},
"y":{"field":"p","type":"quantitative","scale":{"domain":[0,1],"nice":false},
"axis":{"title":"Probability","titleFont":"Liberation Serif","titleFontSize":23,"titleFontWeight":"normal","titleColor":"#111","titleAngle":0,"titleX":-190,"titleY":164,"titleAlign":"left","titleBaseline":"alphabetic","grid":false,"domain":false,"values":[0,0.2,0.4,0.6,0.8,1],"format":".1f","labelFont":"Liberation Sans","labelFontSize":19,"labelColor":"#111","labelPadding":8,"labelOffset":-1,"tickColor":"#111","tickSize":9}},
"color":{"datum":"PROBABILITY OF FAILURE","type":"nominal","scale":{"range":["#0000ff"]},
"legend":{"title":null,"orient":"none","legendX":753,"legendY":55,"strokeColor":"#555","fillColor":"white","padding":6,"symbolType":"circle","symbolSize":26,"symbolOffset":7,"labelFont":"Liberation Sans","labelFontSize":19.9,"labelColor":"#111","labelOffset":11,"labelLimit":300}}
}}
